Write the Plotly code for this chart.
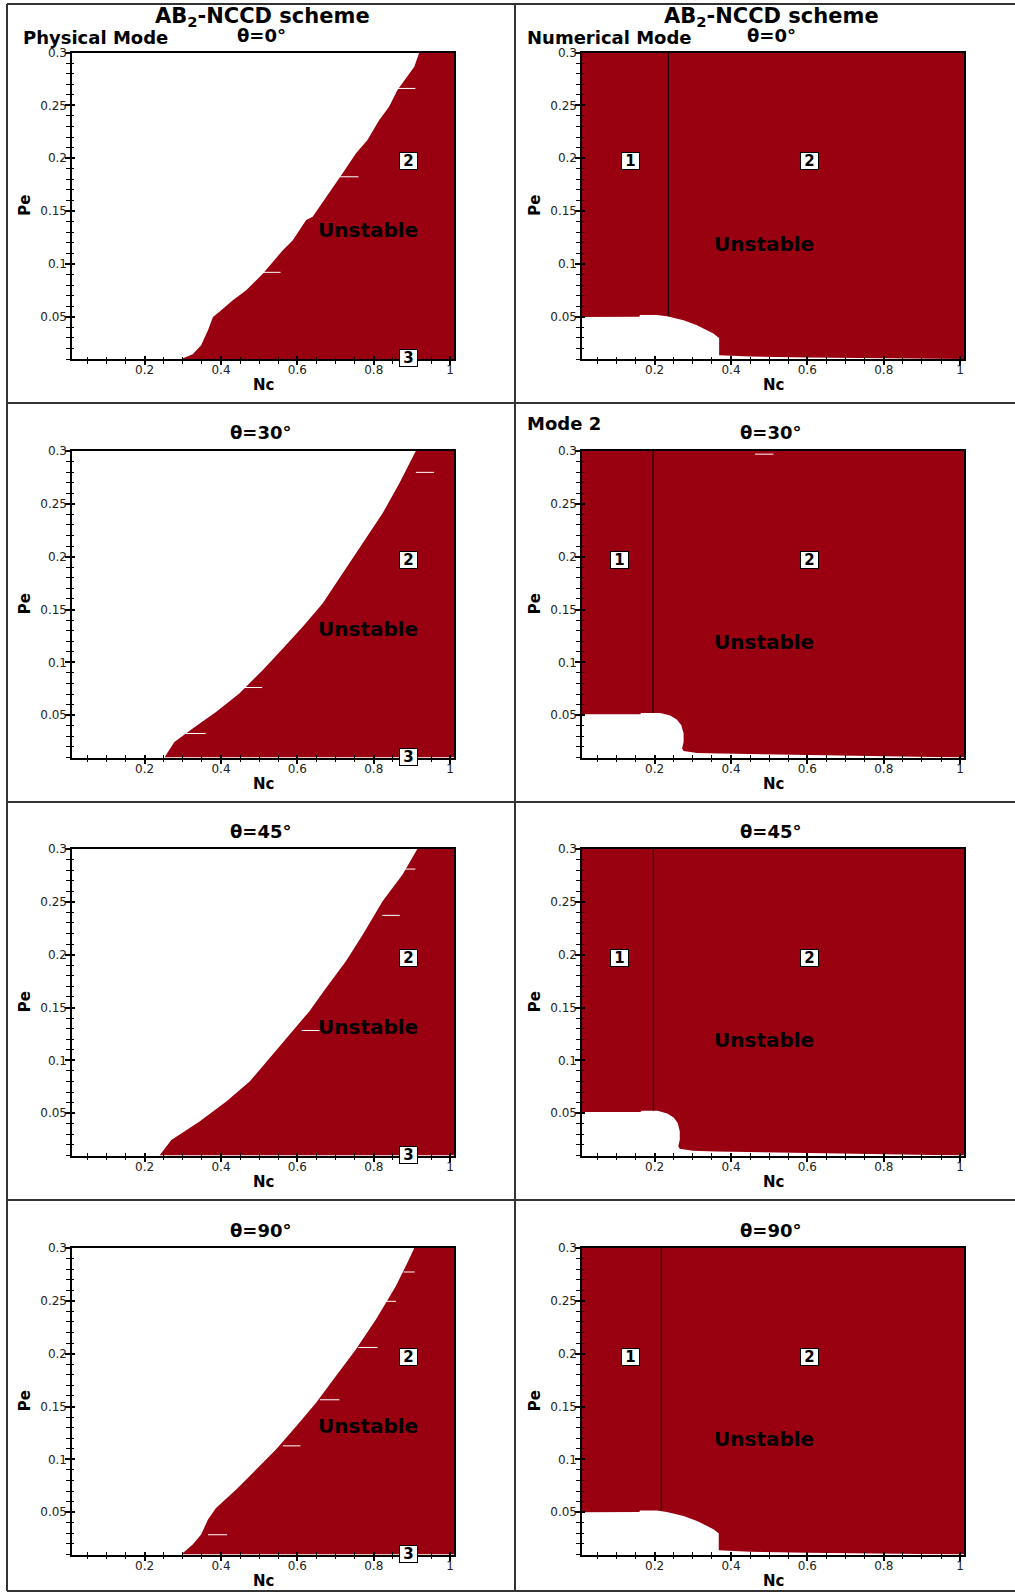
import plotly.graph_objects as go

# ---------------- data ----------------
PANEL_TITLES = ["θ=0°", "θ=0°", "θ=30°", "θ=30°", "θ=45°", "θ=45°", "θ=90°", "θ=90°"]
X_TICKS = [0.2, 0.4, 0.6, 0.8, 1]
X_TICK_TEXT = ["0.2", "0.4", "0.6", "0.8", "1"]
Y_TICKS = [0.05, 0.1, 0.15, 0.2, 0.25, 0.3]
Y_TICK_TEXT = ["0.05", "0.1", "0.15", "0.2", "0.25", "0.3"]
X_RANGE = [0.01, 1.01]
Y_RANGE = [0.01, 0.3]

# Physical mode: stability boundary (Nc, Pe); region to the right is unstable
PHYS0_X = [0.296, 0.326, 0.348, 0.366, 0.379, 0.396, 0.431, 0.466, 0.510, 0.562, 0.588, 0.623,
           0.640, 0.683, 0.718, 0.753, 0.783, 0.814, 0.840, 0.862, 0.888, 0.906, 0.919]
PHYS0_Y = [0.010, 0.0145, 0.023, 0.0372, 0.0498, 0.0546, 0.0656, 0.075, 0.0909, 0.113, 0.1224, 0.1414,
           0.1445, 0.1667, 0.1856, 0.2045, 0.217, 0.236, 0.2487, 0.2645, 0.277, 0.2866, 0.300]
PHYS30_X = [0.252, 0.278, 0.326, 0.387, 0.448, 0.509, 0.562, 0.614, 0.666, 0.718, 0.771, 0.823, 0.867, 0.910]
PHYS30_Y = [0.010, 0.0247, 0.0374, 0.0531, 0.0706, 0.0926, 0.1132, 0.1336, 0.1558, 0.1842, 0.2126, 0.241, 0.2694, 0.300]
PHYS45_X = [0.239, 0.270, 0.344, 0.414, 0.475, 0.535, 0.588, 0.631, 0.675, 0.727, 0.771, 0.823, 0.875, 0.914]
PHYS45_Y = [0.010, 0.0247, 0.0421, 0.0611, 0.080, 0.1052, 0.1274, 0.1463, 0.1684, 0.1937, 0.2189, 0.2505, 0.2757, 0.300]
PHYS90_X = [0.296, 0.326, 0.348, 0.366, 0.387, 0.440, 0.492, 0.544, 0.597, 0.649, 0.701, 0.753, 0.806, 0.858, 0.888, 0.906]
PHYS90_Y = [0.010, 0.0194, 0.0289, 0.0431, 0.0541, 0.0715, 0.0904, 0.1094, 0.1314, 0.1535, 0.1788, 0.204, 0.2325, 0.264, 0.2861, 0.300]

# Numerical mode: upper edge of the stable (white) pocket near the origin
NUM0_X = [0.01, 0.160, 0.162, 0.206, 0.232, 0.276, 0.311, 0.337, 0.354, 0.367, 0.369, 0.369, 0.45, 0.60, 0.80, 0.95, 1.01]
NUM0_Y = [0.0498, 0.0500, 0.0517, 0.0517, 0.0505, 0.0467, 0.0419, 0.0372, 0.0341, 0.0303, 0.0300, 0.0135, 0.0124, 0.0115, 0.0109, 0.0104, 0.0101]
NUM30_X = [0.01, 0.162, 0.165, 0.215, 0.241, 0.258, 0.270, 0.276, 0.276, 0.272, 0.276, 0.311, 0.372, 0.633, 0.85, 0.96, 1.01]
NUM30_Y = [0.0509, 0.0509, 0.0522, 0.0522, 0.0497, 0.0459, 0.0405, 0.0327, 0.0247, 0.0185, 0.0162, 0.0143, 0.0137, 0.0121, 0.0110, 0.0104, 0.0101]
NUM45_X = [0.01, 0.163, 0.166, 0.208, 0.233, 0.250, 0.261, 0.266, 0.266, 0.262, 0.266, 0.300, 0.360, 0.620, 0.85, 0.94, 1.01]
NUM45_Y = [0.0511, 0.0511, 0.0523, 0.0523, 0.0498, 0.0460, 0.0406, 0.0328, 0.0250, 0.0188, 0.0165, 0.0145, 0.0138, 0.0122, 0.0110, 0.0104, 0.0101]
NUM90_X = [0.01, 0.160, 0.162, 0.206, 0.232, 0.276, 0.311, 0.337, 0.354, 0.366, 0.368, 0.368, 0.45, 0.60, 0.80, 0.95, 1.01]
NUM90_Y = [0.0500, 0.0502, 0.0516, 0.0516, 0.0503, 0.0465, 0.0418, 0.0370, 0.0340, 0.0305, 0.0300, 0.0140, 0.0125, 0.0116, 0.0109, 0.0104, 0.0101]

# Boundary between zone 1 and zone 2 (numerical mode)
ZONE_LINE_X = [0.236, 0.196, 0.197, 0.218]
ZONE_LINE_Y0 = [0.0512, 0.0522, 0.0523, 0.0514]

# small white artefact dashes: (x0, x1, y) per panel
DASHES = [
    [(0.862, 0.909, 0.266), (0.710, 0.760, 0.1824), (0.506, 0.556, 0.092)],
    [],
    [(0.910, 0.958, 0.2798), (0.461, 0.508, 0.0762), (0.307, 0.360, 0.0327)],
    [(0.463, 0.511, 0.297)],
    [(0.882, 0.909, 0.281), (0.822, 0.868, 0.2372), (0.611, 0.658, 0.1283)],
    [],
    [(0.878, 0.907, 0.2773), (0.832, 0.858, 0.2496), (0.759, 0.810, 0.2059),
     (0.659, 0.710, 0.1564), (0.562, 0.608, 0.1128), (0.366, 0.416, 0.0287)],
    [],
]

# label positions (Nc, Pe)
PHYS_LABELS = [("2", 0.891, 0.197, True), ("Unstable", 0.786, 0.132, False), ("3", 0.891, 0.0105, True)]
NUM_LABEL_1_X = [0.136, 0.107, 0.107, 0.136]
NUM_LABELS = [("2", 0.606, 0.197, True), ("Unstable", 0.487, 0.119, False)]

# ---------------- styling / layout ----------------
W, H = 1015, 1593
RED = "#990010"
FONT = "DejaVu Sans"
PLOT_LEFT = [72, 582]
PLOT_W = 382
ROW_TOP = [52.5, 451, 849, 1248]
PLOT_H = 306.5


def px(x):
    return x / W


def py(y):
    return 1 - y / H


fig = go.Figure()
layout = dict(width=W, height=H, margin=dict(l=0, r=0, t=0, b=0, pad=0), autosize=False,
              paper_bgcolor="white", plot_bgcolor="rgba(0,0,0,0)", showlegend=False,
              font=dict(family=FONT, color="#111"))
annotations = []
shapes = []

phys_sets = [(PHYS0_X, PHYS0_Y), (PHYS30_X, PHYS30_Y), (PHYS45_X, PHYS45_Y), (PHYS90_X, PHYS90_Y)]
num_sets = [(NUM0_X, NUM0_Y), (NUM30_X, NUM30_Y), (NUM45_X, NUM45_Y), (NUM90_X, NUM90_Y)]


def ax_name(kind, i):
    return kind + "axis" + ("" if i == 1 else str(i))


def ref(kind, i):
    return kind + ("" if i == 1 else str(i))


def text_ann(text, x, y, xr="paper", yr="paper", size=17, xanchor="center", yanchor="middle", **kw):
    d = dict(text=text, x=x, y=y, xref=xr, yref=yr, showarrow=False, xanchor=xanchor, yanchor=yanchor,
             font=dict(family=FONT, size=size, color="#000"))
    d.update(kw)
    return d


def box_label(text, x, y, xr, yr, boxed):
    if boxed:
        return text_ann("<b>%s</b>" % text, x, y, xr, yr, size=15, bgcolor="white",
                        bordercolor="#000", borderwidth=1, borderpad=0, width=17, height=16)
    return text_ann("<b>%s</b>" % text, x, y, xr, yr, size=20)


TICKFONT = dict(family=FONT, size=12, color="#222")

for p in range(8):
    r, c = p // 2, p % 2
    main, ov = 2 * p + 1, 2 * p + 2
    xr, yr = ref("x", main), ref("y", main)
    left = PLOT_LEFT[c]
    top = ROW_TOP[r]
    xdom = [px(left), px(left + PLOT_W)]
    ydom = [py(top + PLOT_H), py(top)]

    # main axes: frame + outer half of the crossing ticks
    common = dict(showgrid=False, zeroline=False, ticks="outside", tickcolor="#000", automargin=False,
                  tickwidth=1.5, linecolor="#000", linewidth=2, showline=True, mirror=True,
                  showticklabels=False)
    layout[ax_name("x", main)] = dict(common, domain=xdom, range=X_RANGE, anchor=yr,
                                      tickmode="array", tickvals=X_TICKS, ticklen=4,
                                      minor=dict(tickmode="linear", tick0=0, dtick=0.05, ticklen=2.5,
                                                 ticks="outside", tickcolor="#000", tickwidth=1.2))
    layout[ax_name("y", main)] = dict(common, domain=ydom, range=Y_RANGE, anchor=xr,
                                      tickmode="array", tickvals=Y_TICKS, ticklen=5,
                                      minor=dict(tickmode="linear", tick0=0, dtick=0.01, ticklen=4,
                                                 ticks="outside", tickcolor="#000", tickwidth=1.2))
    # overlay axes: inner half of the ticks + tick labels
    ovc = dict(showgrid=False, zeroline=False, showline=False, showticklabels=True, automargin=False,
               ticks="inside", tickcolor="#000", tickwidth=1.5, tickfont=TICKFONT)
    layout[ax_name("x", ov)] = dict(ovc, overlaying=xr, anchor=ref("y", ov), range=X_RANGE,
                                    tickmode="array", tickvals=X_TICKS, ticktext=X_TICK_TEXT, ticklen=3,
                                    ticklabelstandoff=2,
                                    minor=dict(tickmode="linear", tick0=0, dtick=0.05, ticklen=2.3,
                                               ticks="inside", tickcolor="#000", tickwidth=1.2))
    layout[ax_name("y", ov)] = dict(ovc, overlaying=yr, anchor=ref("x", ov), range=Y_RANGE, side="left",
                                    tickmode="array", tickvals=Y_TICKS, ticktext=Y_TICK_TEXT, ticklen=3,
                                    ticklabelstandoff=4,
                                    minor=dict(tickmode="linear", tick0=0, dtick=0.01, ticklen=1.5,
                                               ticks="inside", tickcolor="#000", tickwidth=1.2))

    if c == 0:
        bx, by = phys_sets[r]
        fx = list(bx) + [X_RANGE[1], X_RANGE[1]]
        fy = list(by) + [Y_RANGE[1], Y_RANGE[0]]
    else:
        bx, by = num_sets[r]
        fx = list(bx) + [X_RANGE[1], X_RANGE[0]]
        fy = list(by) + [Y_RANGE[1], Y_RANGE[1]]
    fig.add_trace(go.Scatter(x=fx, y=fy, mode="lines", fill="toself", fillcolor=RED,
                             line=dict(width=0, color=RED), xaxis=xr, yaxis=yr,
                             hoverinfo="skip"))
    if c == 1:
        fig.add_trace(go.Scatter(x=[ZONE_LINE_X[r], ZONE_LINE_X[r]], y=[ZONE_LINE_Y0[r], Y_RANGE[1]],
                                 mode="lines", line=dict(width=1.2, color="#1a0000"),
                                 xaxis=xr, yaxis=yr, hoverinfo="skip"))
    for (d0, d1, dy) in DASHES[p]:
        fig.add_trace(go.Scatter(x=[d0, d1], y=[dy, dy], mode="lines",
                                 line=dict(width=1, color="white"), xaxis=xr, yaxis=yr,
                                 hoverinfo="skip"))
    fig.add_trace(go.Scatter(x=[], y=[], xaxis=ref("x", ov), yaxis=ref("y", ov), hoverinfo="skip"))

    # in-plot labels
    if c == 0:
        for (t, lx, ly, b) in PHYS_LABELS:
            annotations.append(box_label(t, lx, ly, xr, yr, b))
    else:
        annotations.append(box_label("1", NUM_LABEL_1_X[r], 0.197, xr, yr, True))
        for (t, lx, ly, b) in NUM_LABELS:
            annotations.append(box_label(t, lx, ly, xr, yr, b))

    # axis titles
    annotations.append(text_ann("<b>Nc</b>", px(left + 191), py(top + PLOT_H + 26), size=15))
    annotations.append(text_ann("<b>Pe</b>", px(left - 47), py(top + PLOT_H / 2), size=15, textangle=-90))
    # panel title
    annotations.append(text_ann("<b>%s</b>" % PANEL_TITLES[p], px(left + 189),
                                py(top - 17.5 if r == 0 else top - 18), size=18))

# header texts
for cx in [262, 771]:
    annotations.append(text_ann("<b>AB<sub>2</sub>-NCCD scheme</b>", px(cx), py(17), size=21))
annotations.append(text_ann("<b>Physical Mode</b>", px(21), py(37), size=18, xanchor="left"))
annotations.append(text_ann("<b>Numerical Mode</b>", px(525), py(37), size=18, xanchor="left"))
annotations.append(text_ann("<b>Mode 2</b>", px(525), py(423.5), size=18, xanchor="left"))

# table frame
for yy in [4, 403, 802, 1200, 1591]:
    shapes.append(dict(type="line", xref="paper", yref="paper", x0=px(7), x1=1, y0=py(yy), y1=py(yy),
                       line=dict(color="#333", width=2)))
for xx in [7, 515]:
    shapes.append(dict(type="line", xref="paper", yref="paper", x0=px(xx), x1=px(xx), y0=py(4), y1=py(1591),
                       line=dict(color="#333", width=2)))

layout["annotations"] = annotations
layout["shapes"] = shapes
fig.update_layout(**layout)
fig.write_html(
    "out.html",
    config={"displayModeBar": False},
    post_script=("document.body.style.margin='0';document.body.style.padding='0';"
                 "var d=document.getElementById('{plot_id}');"
                 "d.style.position='absolute';d.style.left='0px';d.style.top='0px';"),
)
